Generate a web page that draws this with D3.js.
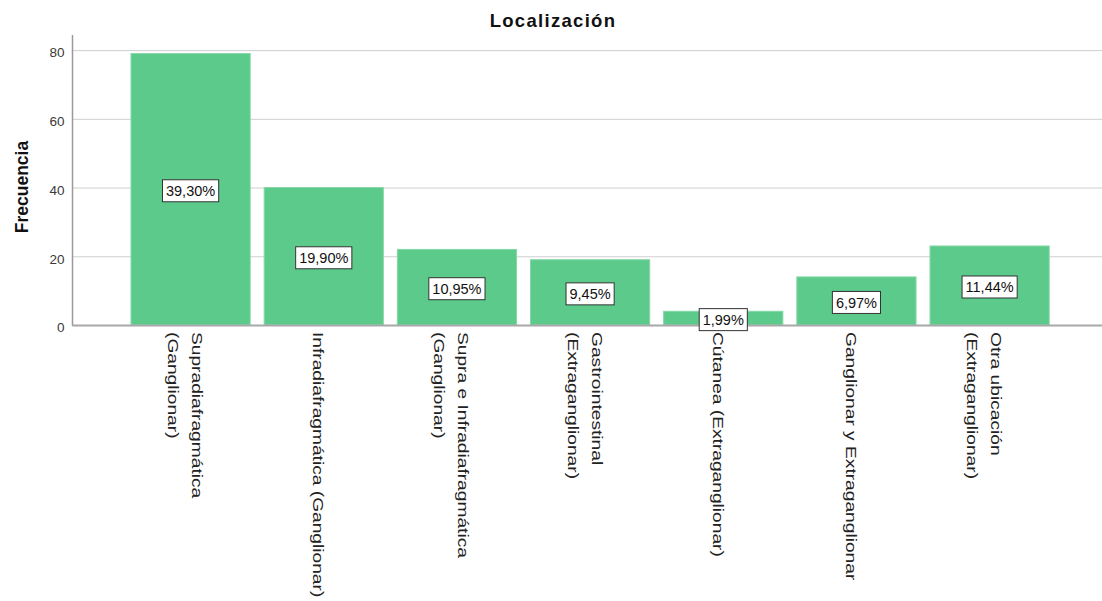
<!DOCTYPE html>
<html lang="es">
<head>
<meta charset="utf-8">
<script src="https://cdn.jsdelivr.net/npm/d3@7"></script>
<style>
  html, body { margin: 0; padding: 0; background: #ffffff; }
  svg { display: block; font-family: "Liberation Sans", Arial, sans-serif; }
</style>
</head>
<body>
<svg id="chart" width="1102" height="601"></svg>
<script>
// Localización: frecuencia por ubicación
const categories = [
  "Supradiafragmática (Ganglionar)",
  "Infradiafragmática (Ganglionar)",
  "Supra e Infradiafragmática (Ganglionar)",
  "Gastrointestinal (Extraganglionar)",
  "Cútanea (Extraganglionar)",
  "Ganglionar y Extraganglionar",
  "Otra ubicación (Extraganglionar)"
];
// Lines of each category label as printed under the axis
const categoryLines = [
  ["Supradiafragmática", "(Ganglionar)"],
  ["Infradiafragmática (Ganglionar)"],
  ["Supra e Infradiafragmática", "(Ganglionar)"],
  ["Gastrointestinal", "(Extraganglionar)"],
  ["Cútanea (Extraganglionar)"],
  ["Ganglionar y Extraganglionar"],
  ["Otra ubicación", "(Extraganglionar)"]
];
const frequencies = [79, 40, 22, 19, 4, 14, 23];
const yTicks = [0, 20, 40, 60, 80];
const chartTitle = "Localización";
const yTitle = "Frecuencia";

const total = d3.sum(frequencies);
const pctLabel = v => (v / total * 100).toFixed(2).replace(".", ",") + "%";

const svg = d3.select("#chart");
const axisX = 72.5, baseY = 325, topY = 35, rightX = 1102;

const x = d3.scaleBand()
  .domain(categories)
  .range([124, 1056.2])
  .paddingInner(0.105)
  .paddingOuter(0.0525);

const y = d3.scaleLinear()
  .domain([0, 84.4])
  .range([baseY, topY]);

// Gridlines and tick labels
const yAxis = d3.axisLeft(y)
  .tickValues(yTicks)
  .tickSize(-(rightX - axisX))
  .tickPadding(8)
  .tickFormat(d3.format("d"));

const gy = svg.append("g")
  .attr("transform", `translate(${axisX},0)`)
  .call(yAxis);
gy.select(".domain").remove();
gy.selectAll(".tick line")
  .attr("stroke", "#cfcfcf")
  .attr("stroke-width", 1);
gy.selectAll(".tick text")
  .attr("font-size", 13.5)
  .attr("fill", "#3a3a3a")
  .attr("x", -8)
  .attr("dy", "0.5em")
  .attr("font-family", "'Liberation Sans', Arial, sans-serif");

// Bars
svg.append("g")
  .selectAll("rect")
  .data(frequencies)
  .join("rect")
  .attr("x", (d, i) => x(categories[i]))
  .attr("width", x.bandwidth())
  .attr("y", d => y(d))
  .attr("height", d => y(0) - y(d))
  .attr("fill", "#5cca8b")
  .attr("stroke", "#86d8a8")
  .attr("stroke-width", 1);

// Axis lines
svg.append("line")
  .attr("x1", axisX).attr("x2", axisX)
  .attr("y1", topY).attr("y2", baseY + 1)
  .attr("stroke", "#9a9a9a").attr("stroke-width", 1.5);
svg.append("line")
  .attr("x1", axisX).attr("x2", rightX)
  .attr("y1", baseY + 0.5).attr("y2", baseY + 0.5)
  .attr("stroke", "#a8a8a8").attr("stroke-width", 2);

// Percentage boxes at bar middles
const labelG = svg.append("g");
frequencies.forEach((v, i) => {
  const cx = x(categories[i]) + x.bandwidth() / 2;
  const cy = (y(v) + y(0)) / 2 + 1.5;
  const g = labelG.append("g");
  const box = g.append("rect")
    .attr("fill", "#ffffff")
    .attr("stroke", "#333333")
    .attr("stroke-width", 1);
  const t = g.append("text")
    .attr("x", cx)
    .attr("y", cy + 5.3)
    .attr("text-anchor", "middle")
    .attr("font-size", 14.5)
    .attr("fill", "#111")
    .text(pctLabel(v));
  const w = t.node().getComputedTextLength() + 7;
  const h = 22;
  box.attr("x", cx - w / 2).attr("y", cy - h / 2)
     .attr("width", w).attr("height", h);
});

// Rotated category labels
const catG = svg.append("g");
categoryLines.forEach((lines, i) => {
  const cx = x(categories[i]) + x.bandwidth() / 2;
  const n = lines.length;
  const g = catG.append("g")
    .attr("transform", `translate(${cx},332) rotate(90) scale(1.37,1)`);
  lines.forEach((ln, j) => {
    g.append("text")
      .attr("x", 0)
      .attr("y", 10.5 - (n - 1) * 12 + 24 * j)
      .attr("font-size", 14)
      .attr("fill", "#222")
      .text(ln);
  });
});

// Titles
svg.append("text")
  .attr("x", 553)
  .attr("y", 26.5)
  .attr("text-anchor", "middle")
  .attr("font-size", 18.5)
  .attr("font-weight", "bold")
  .attr("letter-spacing", 1.3)
  .attr("fill", "#111")
  .text(chartTitle);

svg.append("text")
  .attr("transform", "translate(28,187) rotate(-90)")
  .attr("text-anchor", "middle")
  .attr("font-size", 17.5)
  .attr("font-weight", "bold")
  .attr("fill", "#111")
  .text(yTitle);
</script>
</body>
</html>
